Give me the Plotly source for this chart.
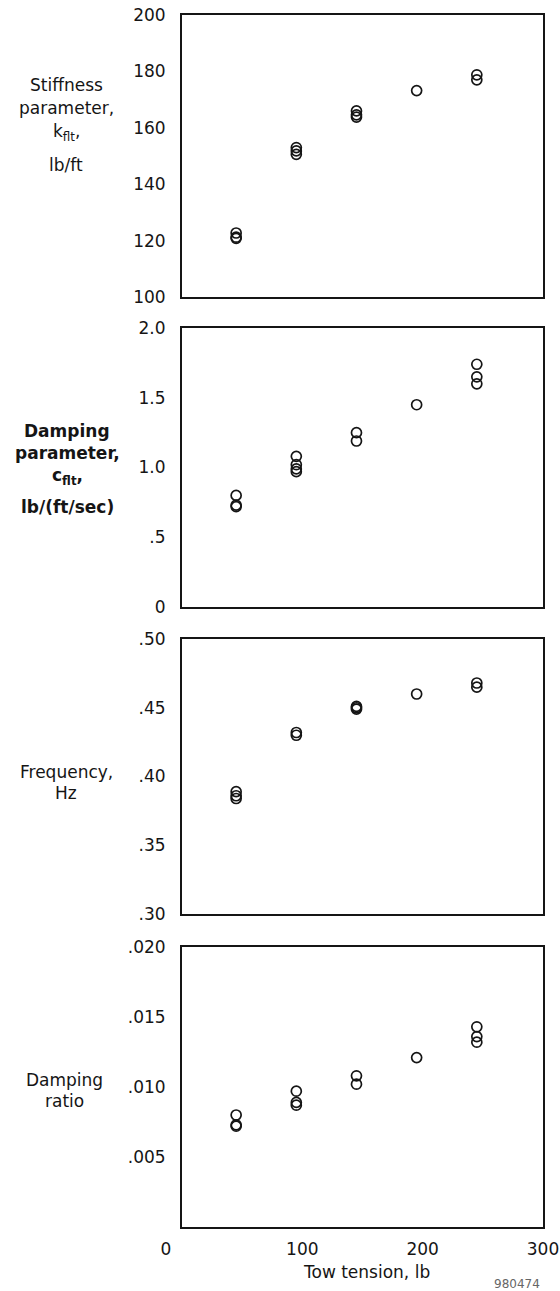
import plotly.graph_objects as go

# ---- data ----
stiff_x = [45, 45, 45, 95, 95, 95, 145, 145, 145, 195, 245, 245]
stiff_y = [122.7, 121.2, 120.8, 153.0, 151.8, 150.6, 166.0, 164.6, 163.8, 173.2, 178.8, 177.0]

damp_x = [45, 45, 45, 95, 95, 95, 95, 145, 145, 195, 245, 245, 245]
damp_y = [0.80, 0.73, 0.72, 1.08, 1.02, 0.99, 0.97, 1.25, 1.19, 1.45, 1.74, 1.65, 1.60]

freq_x = [45, 45, 45, 95, 95, 145, 145, 145, 195, 245, 245]
freq_y = [0.389, 0.386, 0.384, 0.432, 0.430, 0.451, 0.450, 0.449, 0.460, 0.468, 0.465]

ratio_x = [45, 45, 45, 95, 95, 95, 145, 145, 195, 245, 245, 245]
ratio_y = [0.0080, 0.0073, 0.0072, 0.0097, 0.0089, 0.0087, 0.0108, 0.0102, 0.0121, 0.0143, 0.0136, 0.0132]

x_ticks = [0, 100, 200, 300]
x_ticktext = ["0\u00a0\u00a0\u00a0\u00a0\u00a0\u00a0", "100", "200", "300"]
stiff_ticks = [100, 120, 140, 160, 180, 200]
damp_ticks = [0, 0.5, 1.0, 1.5, 2.0]
damp_ticktext = ["0", ".5", "1.0", "1.5", "2.0"]
freq_ticks = [0.30, 0.35, 0.40, 0.45, 0.50]
freq_ticktext = [".30", ".35", ".40", ".45", ".50"]
ratio_ticks = [0.005, 0.010, 0.015, 0.020]
ratio_ticktext = [".005", ".010", ".015", ".020"]

label_lines = [
    ["Stiffness", "parameter,", "k<sub>flt</sub>,", "lb/ft"],
    ["<b>Damping</b>", "<b>parameter,</b>", "<b>c<sub>flt</sub>,</b>", "<b>lb/(ft/sec)</b>"],
    ["Frequency,", "Hz"],
    ["Damping", "ratio"],
]
x_title = "Tow tension, lb"
fig_id = "980474"

# ---- layout helpers ----
W, H = 560, 1291
FONT = "DejaVu Sans, Verdana, sans-serif"
INK = "#151515"

def py(px):
    return 1 - px / H

panels_px = [(15, 297), (328, 607), (639, 914), (947, 1227)]
xdom = [182 / W, 543 / W]

fig = go.Figure()
series = [(stiff_x, stiff_y), (damp_x, damp_y), (freq_x, freq_y), (ratio_x, ratio_y)]
for i, (xs, ys) in enumerate(series):
    sfx = "" if i == 0 else str(i + 1)
    fig.add_trace(go.Scatter(
        x=xs, y=ys, mode="markers",
        xaxis="x" + sfx, yaxis="y" + sfx,
        marker=dict(symbol="circle-open", size=10, color=INK, line=dict(width=1.7, color=INK)),
        showlegend=False, hoverinfo="x+y",
    ))

yspecs = [
    dict(range=[100, 200], tickvals=stiff_ticks, ticktext=[str(v) for v in stiff_ticks]),
    dict(range=[0, 2.0], tickvals=damp_ticks, ticktext=damp_ticktext),
    dict(range=[0.30, 0.50], tickvals=freq_ticks, ticktext=freq_ticktext),
    dict(range=[0, 0.020], tickvals=ratio_ticks, ticktext=ratio_ticktext),
]

layout = dict(
    width=W, height=H,
    margin=dict(l=0, r=0, t=0, b=0, autoexpand=False),
    paper_bgcolor="white", plot_bgcolor="white",
    font=dict(family=FONT, size=17, color=INK),
)

for i, ((top, bot), ys) in enumerate(zip(panels_px, yspecs)):
    sfx = "" if i == 0 else str(i + 1)
    last = i == 3
    layout["xaxis" + sfx] = dict(
        domain=xdom, anchor="y" + sfx, range=[0, 300],
        tickvals=x_ticks, ticktext=x_ticktext,
        showticklabels=last, ticks="", showgrid=False, zeroline=False,
        showline=True, linecolor=INK, linewidth=2, mirror=True,
        tickfont=dict(size=17, color=INK), ticklabelstandoff=6,
        automargin=False, fixedrange=True,
    )
    layout["yaxis" + sfx] = dict(
        domain=[py(bot), py(top)], anchor="x" + sfx,
        range=ys["range"], tickvals=ys["tickvals"], ticktext=ys["ticktext"],
        ticks="", showgrid=False, zeroline=False,
        showline=True, linecolor=INK, linewidth=2, mirror=True,
        tickfont=dict(size=17, color=INK), ticklabelstandoff=11,
        automargin=False, fixedrange=True,
    )

fig.update_layout(**layout)

# left-hand quantity labels, one line at a time
line_pos = [
    (66, [85, 108, 132, 165]),
    (67, [431, 453, 476, 507]),
    (66, [772, 793]),
    (64, [1080, 1101]),
]
for lines, (cx, ys) in zip(label_lines, line_pos):
    for txt, cy in zip(lines, ys):
        fig.add_annotation(
            text=txt, x=cx / W, y=py(cy), xref="paper", yref="paper",
            showarrow=False, xanchor="center", yanchor="middle", align="center",
            font=dict(family=FONT, size=17, color=INK),
        )

# x-axis title as paper text (keeps the plot area fixed)
fig.add_annotation(
    text=x_title, x=366 / W, y=py(1272), xref="paper", yref="paper",
    showarrow=False, xanchor="center", yanchor="middle",
    font=dict(family=FONT, size=17, color=INK),
)

fig.add_annotation(
    text=fig_id, x=517 / W, y=py(1284), xref="paper", yref="paper",
    showarrow=False, xanchor="center", yanchor="middle",
    font=dict(family=FONT, size=12, color="#666"),
)

fig.write_html("out.html")
